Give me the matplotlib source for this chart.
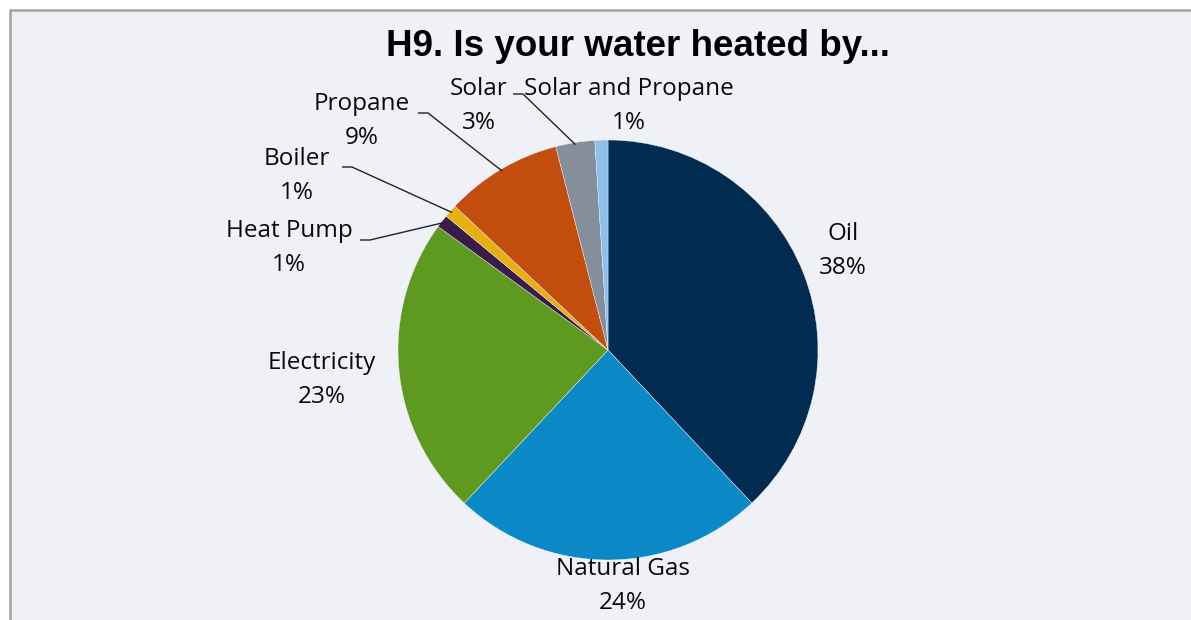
import matplotlib
matplotlib.use("Agg")
import matplotlib.pyplot as plt
from matplotlib.patches import Rectangle
import numpy as np

# ---- data ----
categories = ["Oil", "Natural Gas", "Electricity", "Heat Pump", "Boiler",
              "Propane", "Solar", "Solar and Propane"]
shares = [38, 24, 23, 1, 1, 9, 3, 1]
title = "H9. Is your water heated by..."

# ---- styles / layout (pixel space, y measured from top) ----
colors = ["#012B50", "#0A89C6", "#5F9A20", "#3B1C48", "#E6AF12",
          "#C24D0C", "#858E9B", "#8CC0EA"]
W, H = 1191, 620
center_px = (608, 350)
radius_px = 210
label_pos = [(843, 251), (623, 586), (322, 380), (289, 248), (297, 176),
             (362, 121), (479, 106), (629, 106)]
leader_start = [None, None, None, (360, 240), (342, 167), (418, 113),
                (513, 94), None]

BG = "#F0F1F7"
plt.rcParams['font.family'] = ['Open Sans', 'DejaVu Sans']

fig = plt.figure(figsize=(W / 100, H / 100), dpi=100, facecolor="white")
ax = fig.add_axes([0, 0, 1, 1])

ax.add_patch(Rectangle((10, -5), W, H - 10 + 5, facecolor=BG,
                       edgecolor="#A3A3A3", linewidth=1.8, zorder=0))

cx, cy = center_px[0], H - center_px[1]
wedges, _ = ax.pie(shares, colors=colors, startangle=90, counterclock=False,
                   center=(cx, cy), radius=radius_px, frame=True,
                   wedgeprops=dict(edgecolor=BG, linewidth=0.3))
ax.set_xlim(0, W)
ax.set_ylim(0, H)
ax.set_aspect("equal")
ax.axis("off")

for w, name, val, (lx, ly), ls in zip(wedges, categories, shares,
                                       label_pos, leader_start):
    ax.text(lx, H - ly, f"{name}\n{val}%", ha="center", va="center",
            fontsize=17.5, color="#0A0A0A", linespacing=1.6, zorder=5)
    if ls is not None:
        mid = np.deg2rad((w.theta1 + w.theta2) / 2)
        ex = cx + radius_px * 0.99 * np.cos(mid)
        ey = cy + radius_px * 0.99 * np.sin(mid)
        sx, sy = ls[0], H - ls[1]
        ax.plot([sx, sx + 10, ex], [sy, sy, ey], color="#222222",
                linewidth=1.0, zorder=6, solid_capstyle="butt")

ax.text(638, H - 46, title, ha="center", va="center", fontsize=26.5,
        fontweight="bold", family=["Liberation Sans", "DejaVu Sans"],
        color="#000000")

fig.savefig("out.png", dpi=100, facecolor="white")
